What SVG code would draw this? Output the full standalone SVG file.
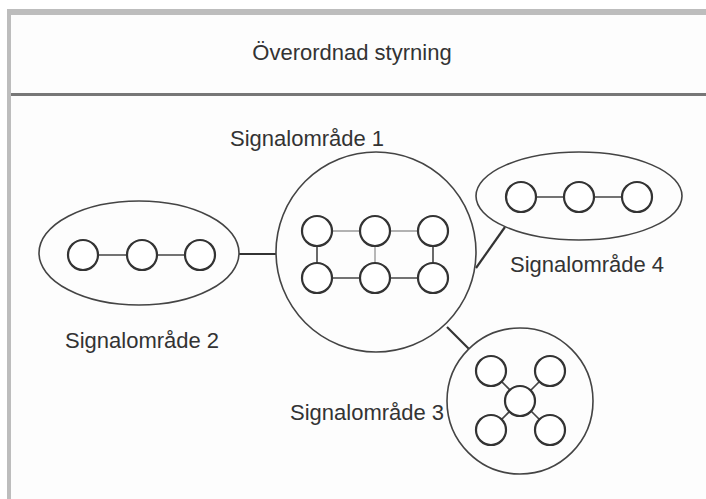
<svg xmlns="http://www.w3.org/2000/svg" width="706" height="499" viewBox="0 0 706 499">
  <style>
    .label { font-family: "Liberation Sans", Arial, sans-serif; font-size: 22px; fill: #333; }
    .area { fill: none; stroke: #444; stroke-width: 1.6; }
    .node { fill: #fff; stroke: #333; stroke-width: 2.2; }
    .link { stroke: #444; stroke-width: 1.6; fill: none; }
    .link-light { stroke: #999; stroke-width: 1.4; fill: none; }
    .bridge { stroke: #333; stroke-width: 2.2; fill: none; }
  </style>

  <!-- page and frame -->
  <rect x="0" y="0" width="706" height="499" fill="#fff"/>
  <rect x="11" y="15" width="695" height="484" fill="#fdfdfd"/>
  <rect x="7" y="9" width="699" height="6" fill="#bdbdbd"/>
  <rect x="7" y="9" width="4" height="490" fill="#bdbdbd"/>
  <rect x="11" y="93" width="695" height="3" fill="#777"/>

  <g id="header">
    <text class="label" x="352" y="60" text-anchor="middle">Överordnad styrning</text>
  </g>

  <!-- links between signal areas -->
  <g id="connectors">
    <line class="bridge" x1="239" y1="254" x2="276" y2="254"/>
    <line class="bridge" x1="476" y1="268" x2="505" y2="227"/>
    <line class="bridge" x1="447" y1="327" x2="469" y2="349"/>
  </g>

  <g id="area1">
    <circle class="area" cx="376" cy="252" r="100"/>
    <line class="link-light" x1="317" y1="231" x2="433" y2="231"/>
    <line class="link" x1="317" y1="278" x2="433" y2="278"/>
    <line class="link" x1="317" y1="231" x2="317" y2="278"/>
    <line class="link-light" x1="375" y1="231" x2="375" y2="278"/>
    <line class="link" x1="433" y1="231" x2="433" y2="278"/>
    <circle class="node" cx="317" cy="231" r="15"/>
    <circle class="node" cx="375" cy="231" r="15"/>
    <circle class="node" cx="433" cy="231" r="15"/>
    <circle class="node" cx="317" cy="278" r="15"/>
    <circle class="node" cx="375" cy="278" r="15"/>
    <circle class="node" cx="433" cy="278" r="15"/>
    <text class="label" x="230" y="146">Signalområde 1</text>
  </g>

  <g id="area2">
    <ellipse class="area" cx="139" cy="253" rx="100" ry="52"/>
    <line class="link" x1="83" y1="255" x2="200" y2="255"/>
    <circle class="node" cx="83" cy="255" r="15"/>
    <circle class="node" cx="142" cy="255" r="15"/>
    <circle class="node" cx="200" cy="255" r="15"/>
    <text class="label" x="65" y="348">Signalområde 2</text>
  </g>

  <g id="area3">
    <circle class="area" cx="520" cy="401" r="73"/>
    <line class="link" x1="491" y1="371" x2="550" y2="430"/>
    <line class="link" x1="550" y1="371" x2="491" y2="430"/>
    <circle class="node" cx="491" cy="371" r="15"/>
    <circle class="node" cx="550" cy="371" r="15"/>
    <circle class="node" cx="491" cy="430" r="15"/>
    <circle class="node" cx="550" cy="430" r="15"/>
    <circle class="node" cx="520" cy="401" r="15"/>
    <text class="label" x="290" y="420">Signalområde 3</text>
  </g>

  <g id="area4">
    <ellipse class="area" cx="579" cy="196" rx="103" ry="44"/>
    <line class="link" x1="521" y1="197" x2="637" y2="197"/>
    <circle class="node" cx="521" cy="197" r="15"/>
    <circle class="node" cx="579" cy="197" r="15"/>
    <circle class="node" cx="637" cy="197" r="15"/>
    <text class="label" x="510" y="272">Signalområde 4</text>
  </g>
</svg>
